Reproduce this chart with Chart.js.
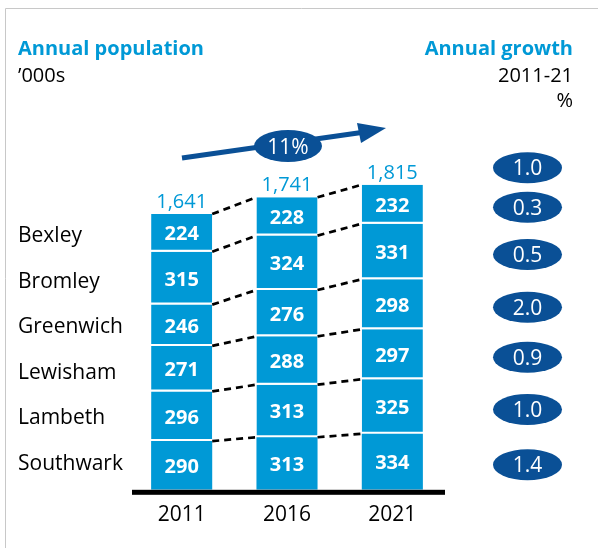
<!DOCTYPE html>
<html>
<head>
<meta charset="utf-8">
<script src="https://cdn.jsdelivr.net/npm/chart.js@4"></script>
<style>
	body { margin: 0; background: #fff; }
	#chart { display: block; }
</style>
</head>
<body>
<canvas id="chart" width="598" height="548"></canvas>
<script>
const years = ['2011', '2016', '2021'];
// bottom to top of the stack
const boroughs = ['Southwark', 'Lambeth', 'Lewisham', 'Greenwich', 'Bromley', 'Bexley'];
const southwark = [290, 313, 334];
const lambeth = [296, 313, 325];
const lewisham = [271, 288, 297];
const greenwich = [246, 276, 298];
const bromley = [315, 324, 331];
const bexley = [224, 228, 232];
const totals = [1641, 1741, 1815];
const growth = ['1.4', '1.0', '0.9', '2.0', '0.5', '0.3'];
const totalGrowth = '1.0';
const overallGrowth = '11%';

const seriesValues = [southwark, lambeth, lewisham, greenwich, bromley, bexley];

const barBlue = '#0099d6';
const darkBlue = '#0a5096';
const font = '"Open Sans", sans-serif';

const ellipse = (ctx, cx, cy, rx, ry, text) => {
	ctx.fillStyle = darkBlue;
	ctx.beginPath();
	ctx.ellipse(cx, cy, rx, ry, 0, 0, Math.PI * 2);
	ctx.fill();
	ctx.fillStyle = '#fff';
	ctx.font = `21px ${font}`;
	ctx.textAlign = 'center';
	ctx.textBaseline = 'alphabetic';
	ctx.fillText(text, cx, cy + 7.5);
}

const decorations = {
	id: 'decorations',
	afterDatasetsDraw(chart) {
		const ctx = chart.ctx;
		const area = chart.chartArea;
		ctx.save();

		// frame
		ctx.strokeStyle = '#c8c8c8';
		ctx.lineWidth = 1;
		ctx.beginPath();
		ctx.moveTo(5.5, 548);
		ctx.lineTo(5.5, 8.5);
		ctx.lineTo(598, 8.5);
		ctx.stroke();

		// titles
		ctx.textBaseline = 'alphabetic';
		ctx.fillStyle = barBlue;
		ctx.font = `bold 20px ${font}`;
		ctx.textAlign = 'left';
		ctx.fillText('Annual population', 18, 55);
		ctx.textAlign = 'right';
		ctx.fillText('Annual growth', 573, 55);
		ctx.fillStyle = '#000';
		ctx.font = `20px ${font}`;
		ctx.textAlign = 'left';
		ctx.fillText('\u2019000s', 18, 82);
		ctx.textAlign = 'right';
		ctx.fillText('2011-21', 573, 82);
		ctx.fillText('%', 573, 107);

		// borough names, top to bottom
		ctx.font = `21px ${font}`;
		ctx.textAlign = 'left';
		[...boroughs].reverse().forEach((b, i) => {
			ctx.fillText(b, 18, 242 + i * 45.6);
		});

		const metas = seriesValues.map((s, i) => chart.getDatasetMeta(i));

		// dashed connectors at the top of each segment
		ctx.strokeStyle = '#000';
		ctx.lineWidth = 2.7;
		ctx.setLineDash([7, 5]);
		metas.forEach(m => {
			for (let j = 0; j < m.data.length - 1; j++) {
				const a = m.data[j];
				const b = m.data[j + 1];
				ctx.beginPath();
				ctx.moveTo(a.x + a.width / 2, a.y);
				ctx.lineTo(b.x - b.width / 2, b.y);
				ctx.stroke();
			}
		});
		ctx.setLineDash([]);

		// values inside segments
		ctx.fillStyle = '#fff';
		ctx.font = `bold 20px ${font}`;
		ctx.textAlign = 'center';
		metas.forEach((m, i) => {
			m.data.forEach((bar, j) => {
				ctx.fillText(seriesValues[i][j], bar.x, (bar.y + bar.base) / 2 + 7.5);
			});
		});

		// totals above bars
		const top = metas[metas.length - 1];
		ctx.fillStyle = barBlue;
		ctx.font = `20px ${font}`;
		top.data.forEach((bar, j) => {
			ctx.fillText(totals[j].toLocaleString('en-GB'), bar.x, bar.y - 6);
		});

		// baseline
		ctx.fillStyle = '#000';
		ctx.fillRect(area.left + 3, area.bottom, area.right - area.left - 3, 5);

		// growth arrow
		ctx.strokeStyle = darkBlue;
		ctx.fillStyle = darkBlue;
		ctx.lineWidth = 5;
		ctx.beginPath();
		ctx.moveTo(182, 158);
		ctx.lineTo(365, 132);
		ctx.stroke();
		ctx.beginPath();
		ctx.moveTo(386, 128);
		ctx.lineTo(357, 123);
		ctx.lineTo(361, 143);
		ctx.closePath();
		ctx.fill();
		ellipse(ctx, 288, 146, 34, 16, overallGrowth);

		// annual growth ellipses, level with the 2021 segments
		const last = years.length - 1;
		ellipse(ctx, 527.5, top.data[last].y - 17, 34.5, 15.5, totalGrowth);
		metas.forEach((m, i) => {
			const bar = m.data[last];
			ellipse(ctx, 527.5, (bar.y + bar.base) / 2 + 3, 34.5, 15.5, growth[i]);
		});

		ctx.restore();
	}
};

const datasets = boroughs.map((b, i) => ({
	label: b,
	data: seriesValues[i],
	backgroundColor: barBlue,
	borderColor: '#fff',
	borderWidth: i === 0 ? 0 : { top: 0, bottom: 2, left: 0, right: 0 },
	borderSkipped: false,
	barPercentage: 0.58,
	categoryPercentage: 1
}));

new Chart(document.getElementById('chart'), {
	type: 'bar',
	data: { labels: years, datasets },
	options: {
		responsive: false,
		animation: false,
		devicePixelRatio: 1,
		layout: { padding: { left: 129, right: 153, top: 154, bottom: 15 } },
		plugins: {
			legend: { display: false },
			tooltip: { enabled: false }
		},
		scales: {
			x: {
				stacked: true,
				grid: { display: false },
				border: { display: false },
				ticks: { color: '#000', font: { family: font, size: 21 }, padding: 5 }
			},
			y: {
				stacked: true,
				display: false,
				min: 0,
				max: 2000
			}
		}
	},
	plugins: [decorations]
});
</script>
</body>
</html>
